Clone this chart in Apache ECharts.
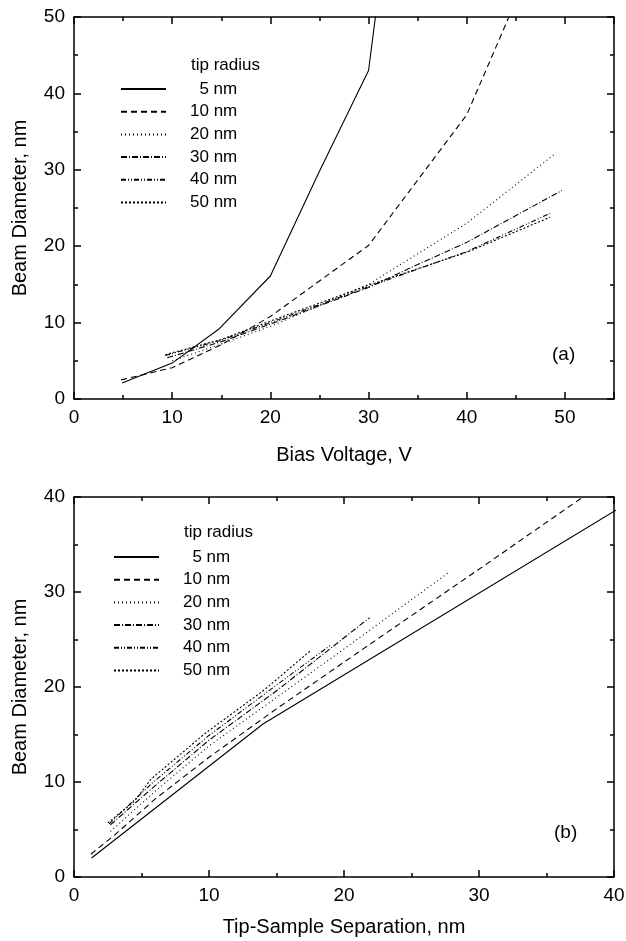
<!DOCTYPE html>
<html>
<head>
<meta charset="utf-8">
<script src="https://cdn.jsdelivr.net/npm/echarts@6/dist/echarts.min.js"></script>
<style>
html,body{margin:0;padding:0;background:#fff;}
#chart{width:626px;height:941px;}
</style>
</head>
<body>
<div id="chart"></div>
<script>
// legend names, same order in both panels
var radii = ['5 nm', '10 nm', '20 nm', '30 nm', '40 nm', '50 nm'];
// dash pattern for each tip radius
var dashes = ['solid', [6, 4], [1, 3], [6, 2, 1, 2], [5, 2, 1, 2, 1, 2], [2, 2]];

// (a) beam diameter (nm) vs bias voltage (V)
var bias5  = [[4.9, 2.1], [10, 4.7], [14.8, 9.2], [20, 16.1], [25, 29.8], [30, 43], [35, 93]];
var bias10 = [[4.8, 2.5], [10, 4.1], [15, 7.1], [20, 10.8], [30, 20.1], [40, 37.2], [50, 67]];
var bias20 = [[10, 5.0], [15, 7.2], [20, 9.5], [30, 15.0], [40, 23.0], [49.1, 32.2]];
var bias30 = [[9.5, 5.4], [15, 7.5], [20, 9.8], [30, 14.6], [35, 17.6], [40, 20.5], [49.7, 27.3]];
var bias40 = [[9.3, 5.7], [15, 7.7], [20, 10.0], [30, 14.7], [40, 19.3], [48.5, 24.3]];
var bias50 = [[9.3, 5.8], [15, 7.8], [20, 10.2], [30, 14.9], [40, 19.2], [48.5, 23.8]];

// (b) beam diameter (nm) vs tip-sample separation (nm)
var sep5  = [[1.3, 2.0], [14, 16.1], [45, 42.8]];
var sep10 = [[1.25, 2.4], [3, 4.4], [6, 8.2], [10, 12.6], [15, 17.7], [21, 23.6], [30, 32.4], [37.7, 40], [45, 47.3]];
var sep20 = [[2.7, 4.8], [6, 9.0], [10, 13.8], [15, 18.9], [20, 24.0], [27.8, 32.1]];
var sep30 = [[2.7, 5.5], [6, 9.6], [10, 14.4], [15, 19.6], [21.9, 27.3]];
var sep40 = [[2.6, 5.6], [5.8, 9.9], [10, 14.9], [15, 20.2], [19.0, 24.4]];
var sep50 = [[2.5, 5.7], [4.5, 8.0], [5.7, 10.3], [9.7, 15.1], [14.1, 19.7], [17.5, 23.8]];

var biasData = [bias5, bias10, bias20, bias30, bias40, bias50];
var sepData = [sep5, sep10, sep20, sep30, sep40, sep50];

var font = "'Liberation Sans', Arial, sans-serif";
var black = '#000';

function axis(grid, pos, max, name, gap, labels) {
	return {
		gridIndex: grid, type: 'value', position: pos,
		min: 0, max: max, interval: 10,
		name: name, nameLocation: 'middle', nameGap: gap,
		nameTextStyle: {color: black, fontSize: 20, fontFamily: font},
		axisLine: {show: true, onZero: false, lineStyle: {color: black, width: 1.5}},
		axisTick: {show: true, inside: true, length: 7, lineStyle: {color: black, width: 1.5}},
		minorTick: {show: true, splitNumber: 2, length: 4, lineStyle: {color: black, width: 1.5}},
		axisLabel: {show: labels, color: black, fontSize: 19, fontFamily: font, margin: 9, showMaxLabel: max % 10 === 0},
		splitLine: {show: false}
	};
}

var series = [];
radii.forEach(function (r, i) {
	series.push({name: r, type: 'line', xAxisIndex: 0, yAxisIndex: 0, data: biasData[i],
		symbol: 'none', silent: true, itemStyle: {color: black},
		lineStyle: {color: black, width: 1.1, type: dashes[i]}});
});
radii.forEach(function (r, i) {
	series.push({name: r, type: 'line', xAxisIndex: 2, yAxisIndex: 2, data: sepData[i],
		symbol: 'none', silent: true, itemStyle: {color: black},
		lineStyle: {color: black, width: 1.1, type: dashes[i]}});
});

function legend(left, top) {
	return {
		data: radii, orient: 'vertical', left: left, top: top, padding: 0,
		itemWidth: 45, itemHeight: 14, itemGap: 5.7,
		selectedMode: false,
		itemStyle: {opacity: 0, borderWidth: 0},
		formatter: function (n) { return n === '5 nm' ? '  5 nm' : n; },
		textStyle: {color: black, fontSize: 17, fontFamily: font, lineHeight: 17, padding: [0, 0, 0, 19]}
	};
}

function label(text, left, top, size) {
	return {text: text, left: left, top: top, padding: 0,
		textStyle: {color: black, fontSize: size, fontWeight: 'normal', fontFamily: font}};
}

var chart = echarts.init(document.getElementById('chart'));
chart.setOption({
	animation: false,
	backgroundColor: '#fff',
	title: [
		label('tip radius', 191, 57, 17),
		label('(a)', 552, 345, 19),
		label('tip radius', 184, 524, 17),
		label('(b)', 554, 823, 19)
	],
	legend: [legend(120, 80.5), legend(113, 548.5)],
	grid: [
		{left: 74, top: 17, width: 540, height: 382, outerBoundsMode: 'none'},
		{left: 74, top: 497, width: 540, height: 380, outerBoundsMode: 'none'}
	],
	xAxis: [
		axis(0, 'bottom', 55, 'Bias Voltage, V', 46, true),
		axis(0, 'top', 55, '', 0, false),
		axis(1, 'bottom', 40, 'Tip-Sample Separation, nm', 40, true),
		axis(1, 'top', 40, '', 0, false)
	],
	yAxis: [
		axis(0, 'left', 50, 'Beam Diameter, nm', 44, true),
		axis(0, 'right', 50, '', 0, false),
		axis(1, 'left', 40, 'Beam Diameter, nm', 44, true),
		axis(1, 'right', 40, '', 0, false)
	],
	series: series
});
</script>
</body>
</html>
